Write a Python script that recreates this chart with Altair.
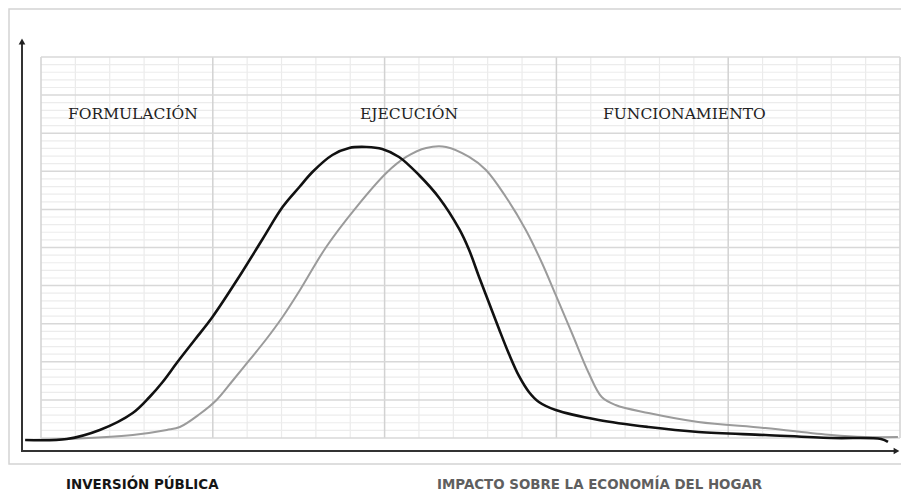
import altair as alt
import pandas as pd

# ---- values (grid units: 1 x unit = one grid column, 1 y unit = one thin grid row)
black_x = [-0.46, 0.75, 1.71, 2.67, 3.16, 3.54, 3.95, 4.47, 4.99, 5.78, 6.45, 7.03, 7.52, 7.90, 8.48,
           8.97, 9.47, 9.93, 10.42, 11.00, 11.59, 12.17, 12.46, 12.75, 13.04, 13.33, 13.62, 13.91,
           14.20, 14.49, 14.98, 16.23, 17.68, 19.13, 21.08, 23.00, 24.45, 24.65]
black_y = [-0.26, -0.13, 1.05, 3.28, 5.38, 7.35, 9.84, 12.86, 15.88, 21.26, 26.12, 30.31, 32.94, 34.91,
           37.14, 38.06, 38.19, 37.93, 36.88, 34.51, 31.50, 27.43, 24.67, 21.13, 17.72, 14.30, 11.02,
           8.14, 6.04, 4.72, 3.67, 2.36, 1.44, 0.79, 0.39, 0.00, -0.13, -0.52]

gray_x = [-0.46, 0.75, 2.67, 3.66, 4.04, 4.62, 5.11, 5.57, 6.07, 6.56, 7.03, 7.52, 8.30, 9.18, 10.05,
          10.63, 11.21, 11.79, 12.46, 12.95, 13.53, 14.11, 14.58, 14.98, 15.45, 15.94, 16.32, 16.72,
          17.68, 19.13, 21.08, 23.00, 23.98, 24.94]
gray_y = [-0.26, -0.13, 0.39, 1.05, 1.44, 3.15, 4.99, 7.48, 10.24, 12.99, 15.88, 19.29, 25.07, 30.31,
          34.78, 36.88, 38.06, 38.19, 36.88, 35.17, 31.63, 27.30, 22.97, 18.77, 13.78, 8.53, 5.38,
          4.33, 3.28, 2.10, 1.31, 0.39, 0.13, 0.13]

phase_labels = ["FORMULACIÓN", "EJECUCIÓN", "FUNCIONAMIENTO"]
bottom_labels = ["INVERSIÓN PÚBLICA", "IMPACTO SOBRE LA ECONOMÍA DEL HOGAR"]
series_names = ["Inversión pública", "Impacto"]

grid_cols = list(range(26))   # 25 columns, major every 5
grid_rows = list(range(51))   # 50 thin rows, major every 5

# ---- tables
curves = pd.concat([
    pd.DataFrame({"x": gray_x, "y": gray_y, "s": series_names[1], "o": range(len(gray_x))}),
    pd.DataFrame({"x": black_x, "y": black_y, "s": series_names[0], "o": range(len(black_x))}),
])
vgrid = pd.DataFrame({"c": grid_cols, "b": 0, "t": 50})
vgrid["major"] = (vgrid["c"] % 5 == 0).astype(int)
hgrid = pd.DataFrame({"r": grid_rows, "l": 0, "rr": 25})
hgrid["major"] = (hgrid["r"] % 5 == 0).astype(int)

W, H = 893, 484
xs = alt.Scale(domain=[-0.9604, 25.029], nice=False, zero=False)
ys = alt.Scale(domain=[-7.087, 56.430], nice=False, zero=False)

one = pd.DataFrame({"k": [0]})

frame = alt.Chart(one).mark_rect(fillOpacity=0, stroke="#d4d4d4", strokeWidth=1.5).encode(
    x=alt.value(1), x2=alt.value(910), y=alt.value(1), y2=alt.value(456))

v_minor = alt.Chart(vgrid).transform_filter("datum.major == 0").mark_rule(
    color="#ebebeb", strokeWidth=1.2).encode(
    x=alt.X("c:Q", scale=xs, axis=None), y=alt.Y("b:Q", scale=ys, axis=None), y2="t:Q")
h_minor = alt.Chart(hgrid).transform_filter("datum.major == 0").mark_rule(
    color="#ececec", strokeWidth=1.2).encode(
    y=alt.Y("r:Q", scale=ys, axis=None), x=alt.X("l:Q", scale=xs, axis=None), x2="rr:Q")
v_major = alt.Chart(vgrid).transform_filter("datum.major == 1").mark_rule(
    color="#d2d2d2", strokeWidth=1.5).encode(
    x=alt.X("c:Q", scale=xs, axis=None), y=alt.Y("b:Q", scale=ys, axis=None), y2="t:Q")
h_major = alt.Chart(hgrid).transform_filter("datum.major == 1").mark_rule(
    color="#d8d8d8", strokeWidth=1.5).encode(
    y=alt.Y("r:Q", scale=ys, axis=None), x=alt.X("l:Q", scale=xs, axis=None), x2="rr:Q")

lines = alt.Chart(curves).mark_line(interpolate="catmull-rom").encode(
    x=alt.X("x:Q", scale=xs, axis=None),
    y=alt.Y("y:Q", scale=ys, axis=None),
    detail="s:N",
    order="o:Q",
    color=alt.Color("s:N", scale=alt.Scale(domain=series_names, range=["#111111", "#9b9b9b"]), legend=None),
    strokeWidth=alt.StrokeWidth("s:N", scale=alt.Scale(domain=series_names, range=[2.6, 2.0]), legend=None),
)

y_axis = alt.Chart(one).mark_rule(color="#333333", strokeWidth=2).encode(
    x=alt.value(14), y=alt.value(36), y2=alt.value(444))
x_axis = alt.Chart(one).mark_rule(color="#333333", strokeWidth=2).encode(
    x=alt.value(14), x2=alt.value(888), y=alt.value(443))
y_head = alt.Chart(one).mark_point(shape="triangle-up", filled=True, color="#222222", opacity=1, size=45).encode(
    x=alt.value(14), y=alt.value(33.5))
x_head = alt.Chart(one).mark_point(shape="triangle-right", filled=True, color="#222222", opacity=1, size=45).encode(
    x=alt.value(888.5), y=alt.value(443))


def phase(label, xpos):
    return alt.Chart(pd.DataFrame({"t": [label]})).mark_text(
        align="left", baseline="alphabetic", font="DejaVu Serif", fontSize=15.5, color="#222222"
    ).encode(x=alt.value(xpos), y=alt.value(111), text="t:N")


def bottom(label, xpos, color):
    return alt.Chart(pd.DataFrame({"t": [label]})).mark_text(
        align="left", baseline="alphabetic", font="DejaVu Sans", fontSize=13.4,
        fontWeight="bold", color=color
    ).encode(x=alt.value(xpos), y=alt.value(481), text="t:N")


chart = alt.layer(
    frame, v_minor, h_minor, v_major, h_major, lines, y_axis, x_axis, y_head, x_head,
    phase(phase_labels[0], 60), phase(phase_labels[1], 352), phase(phase_labels[2], 595),
    bottom(bottom_labels[0], 58, "#151515"), bottom(bottom_labels[1], 429, "#5f5f5f"),
).properties(
    width=W, height=H, padding=0, autosize=alt.AutoSizeParams(type="none")
).configure_view(strokeWidth=0)

chart.save("out.html", embed_options={"renderer": "svg", "actions": False})
